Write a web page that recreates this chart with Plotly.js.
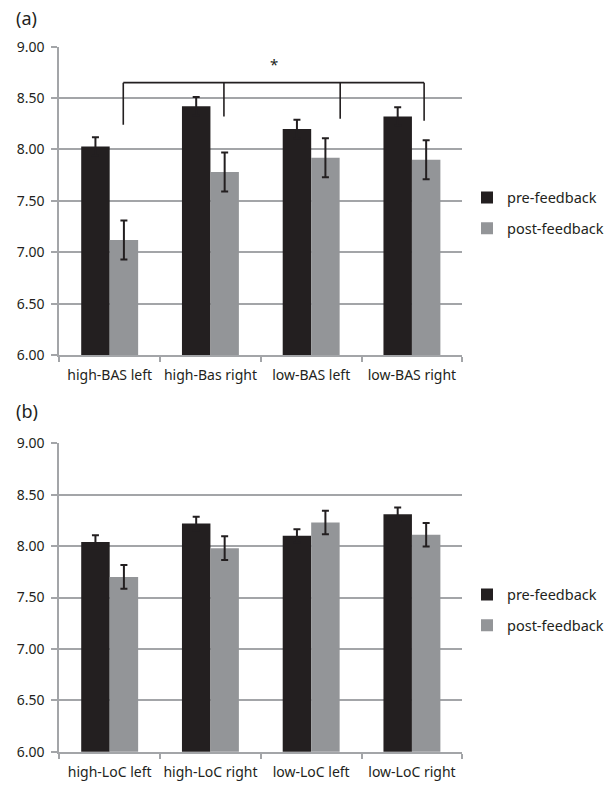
<!DOCTYPE html>
<html>
<head>
<meta charset="utf-8">
<script src="https://cdn.plot.ly/plotly-3.0.1.min.js"></script>
<style>html,body{margin:0;padding:0;background:#fff;}#chart{width:612px;height:786px;}</style>
</head>
<body>
<div id="chart"></div>
<script>
// ---- data ----
const catsA = ["high-BAS left", "high-Bas right", "low-BAS left", "low-BAS right"];
const preA = [8.03, 8.42, 8.20, 8.32];
const preAErr = [0.09, 0.09, 0.09, 0.09];
const postA = [7.12, 7.78, 7.92, 7.90];
const postAErr = [0.19, 0.19, 0.19, 0.19];

const catsB = ["high-LoC left", "high-LoC right", "low-LoC left", "low-LoC right"];
const preB = [8.04, 8.22, 8.10, 8.31];
const preBErr = [0.065, 0.065, 0.065, 0.065];
const postB = [7.70, 7.98, 8.23, 8.11];
const postBErr = [0.115, 0.115, 0.115, 0.115];

const seriesNames = ["pre-feedback", "post-feedback"];
const tickVals = [6, 6.5, 7, 7.5, 8, 8.5, 9];

// significance bracket (panel a): leg positions as category index + offset, leg bottom values
const bracketLegX = [0.135, 1.134, 2.288, 3.121];
const bracketLegBottom = [8.24, 8.32, 8.30, 8.28];
const bracketTop = 8.65;
const starLabel = "*";
const starY = 8.83;

// ---- styling ----
const preColor = "#231f20";
const postColor = "#939598";
const gridColor = "#a3a5a8";
const font = "Noto Sans, Open Sans, sans-serif";

function errStyle(arr) {
  return {type: "data", array: arr, visible: true, color: preColor, thickness: 2, width: 3.5};
}

const traces = [
  {type: "bar", x: catsA, y: preA, name: seriesNames[0], marker: {color: preColor},
   error_y: errStyle(preAErr), xaxis: "x", yaxis: "y", legend: "legend", legendgroup: "a1"},
  {type: "bar", x: catsA, y: postA, name: seriesNames[1], marker: {color: postColor},
   error_y: errStyle(postAErr), xaxis: "x", yaxis: "y", legend: "legend", legendgroup: "a2"},
  {type: "bar", x: catsB, y: preB, name: seriesNames[0], marker: {color: preColor},
   error_y: errStyle(preBErr), xaxis: "x2", yaxis: "y2", legend: "legend2", legendgroup: "b1"},
  {type: "bar", x: catsB, y: postB, name: seriesNames[1], marker: {color: postColor},
   error_y: errStyle(postBErr), xaxis: "x2", yaxis: "y2", legend: "legend2", legendgroup: "b2"}
];

const xDom = [59.3 / 612, 462.3 / 612];
function yax(dom, anchor) {
  return {
    domain: dom, anchor: anchor, range: [6, 9], tickvals: tickVals, tickformat: ".2f",
    showgrid: true, gridcolor: gridColor, gridwidth: 2, zeroline: false,
    showline: true, linecolor: gridColor, linewidth: 2,
    ticks: "outside", ticklen: 6, tickcolor: gridColor, tickwidth: 2,
    ticklabelstandoff: 4,
    tickfont: {family: font, size: 14, color: "#231f20"}, fixedrange: true
  };
}
function xax(anchor) {
  return {
    domain: xDom, anchor: anchor, type: "category",
    showline: true, linecolor: gridColor, linewidth: 2,
    ticks: "outside", tickson: "boundaries", ticklen: 5, tickcolor: gridColor, tickwidth: 2,
    ticklabelstandoff: 6, tickangle: 0,
    showgrid: false, tickfont: {family: font, size: 14, color: "#231f20"}, fixedrange: true
  };
}

const shapes = [];
// horizontal bar of bracket
shapes.push({type: "line", xref: "x", yref: "y", x0: bracketLegX[0], x1: bracketLegX[bracketLegX.length - 1],
  y0: bracketTop, y1: bracketTop, line: {color: "#231f20", width: 1.6}});
bracketLegX.forEach((bx, i) => {
  shapes.push({type: "line", xref: "x", yref: "y", x0: bx, x1: bx, y0: bracketTop, y1: bracketLegBottom[i],
    line: {color: "#231f20", width: 1.6}});
});

const legendCommon = {
  x: 467 / 612, xanchor: "left", yanchor: "middle", bgcolor: "rgba(0,0,0,0)",
  font: {family: font, size: 14.5, color: "#231f20"}, traceorder: "grouped", tracegroupgap: 9,
  itemwidth: 30
};

const layout = {
  width: 612, height: 786,
  margin: {l: 0, r: 0, t: 0, b: 0},
  paper_bgcolor: "#fff", plot_bgcolor: "#fff",
  barmode: "group", bargap: 0.435, bargroupgap: 0,
  showlegend: true,
  xaxis: xax("y"),
  yaxis: yax([(786 - 355) / 786, (786 - 46.7) / 786], "x"),
  xaxis2: xax("y2"),
  yaxis2: yax([(786 - 751.7) / 786, (786 - 443.3) / 786], "x2"),
  legend: Object.assign({}, legendCommon, {y: 1 - 213 / 786}),
  legend2: Object.assign({}, legendCommon, {y: 1 - 610 / 786}),
  shapes: shapes,
  annotations: [
    {text: starLabel, xref: "x", yref: "y", x: (bracketLegX[0] + bracketLegX[3]) / 2, y: starY,
     showarrow: false, font: {family: font, size: 15, color: "#231f20"}},
    {text: "(a)", xref: "paper", yref: "paper", x: 14 / 612, y: 1 - 18 / 786, xanchor: "left", yanchor: "middle",
     showarrow: false, font: {family: font, size: 18, color: "#231f20"}},
    {text: "(b)", xref: "paper", yref: "paper", x: 14 / 612, y: 1 - 411 / 786, xanchor: "left", yanchor: "middle",
     showarrow: false, font: {family: font, size: 18, color: "#231f20"}}
  ]
};

Plotly.newPlot("chart", traces, layout, {displayModeBar: false, staticPlot: true});
</script>
</body>
</html>
